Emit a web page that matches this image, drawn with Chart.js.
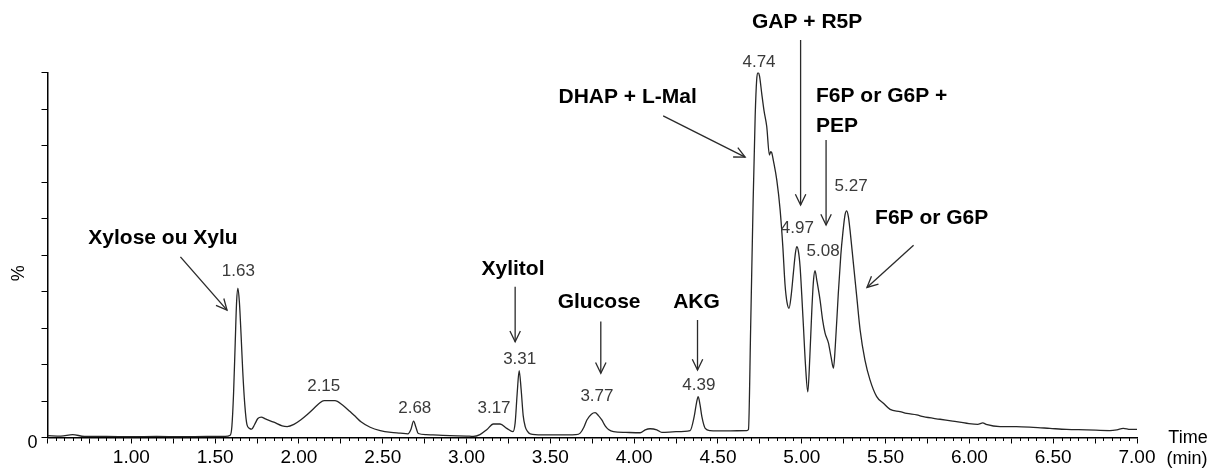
<!DOCTYPE html>
<html><head><meta charset="utf-8">
<script src="https://cdn.jsdelivr.net/npm/chart.js@4.4.1/dist/chart.umd.min.js"></script>
<style>html,body{margin:0;padding:0;background:#fff;}canvas{display:block;}</style>
</head><body>
<canvas id="c" width="1211" height="472"></canvas>
<script>
// ---- data (retention time in min, relative intensity in %) ----
const timeMin = [
0.50,0.58,0.65,0.72,0.85,1.00,1.15,1.30,1.45,1.56,1.59,1.600,1.610,1.620,1.628,1.636,1.645,1.655,1.665,1.677,1.690,1.705,1.718,1.735,1.755,1.775,1.800,1.850,1.900,1.930,1.970,2.010,2.050,2.090,2.120,2.150,2.215,2.260,2.305,2.340,2.370,2.425,2.485,2.550,2.605,2.650,2.668,2.684,2.698,2.712,2.760,2.800,2.900,3.000,3.040,3.080,3.122,3.160,3.200,3.240,3.277,3.290,3.302,3.314,3.326,3.338,3.350,3.365,3.380,3.450,3.550,3.650,3.678,3.700,3.718,3.745,3.767,3.787,3.807,3.827,3.847,3.877,3.950,4.036,4.066,4.095,4.135,4.165,4.250,4.334,4.358,4.372,4.382,4.393,4.404,4.424,4.453,4.550,4.672,4.682,4.695,4.710,4.722,4.731,4.739,4.748,4.761,4.775,4.791,4.807,4.815,4.821,4.830,4.851,4.871,4.887,4.900,4.912,4.924,4.937,4.950,4.962,4.970,4.980,4.990,5.000,5.010,5.022,5.036,5.048,5.060,5.070,5.079,5.090,5.109,5.125,5.139,5.159,5.175,5.189,5.200,5.218,5.233,5.245,5.258,5.268,5.278,5.288,5.308,5.328,5.348,5.377,5.407,5.447,5.487,5.527,5.586,5.626,5.686,5.725,5.825,5.900,5.984,6.050,6.080,6.100,6.183,6.280,6.381,6.480,6.580,6.700,6.838,6.880,6.918,6.960,7.000];
const intensityPct = [
0.5,0.4,0.8,0.3,0.3,0.2,0.3,0.2,0.3,0.3,0.6,3,12,26,37,40.9,37,28,18,9,3.5,2.5,2.3,3.5,5.2,5.6,5.1,4.2,3.2,3.0,3.6,4.8,6.3,8.0,9.3,10.1,10.1,8.9,7.1,5.6,4.3,2.8,1.9,1.4,1.2,1.0,2.2,4.5,2.8,1.1,0.8,0.7,0.5,0.4,0.3,0.8,2.2,3.7,3.7,2.5,1.6,4,12,18.3,13,6,3.0,1.6,1.0,0.7,0.7,0.8,1.2,2.8,4.8,6.4,6.8,6.0,4.8,3.2,2.2,1.6,1.4,1.3,2.1,2.4,2.1,1.4,1.6,1.9,5.7,9.5,11.2,9,5.7,2.5,1.9,1.8,1.9,2.2,30,65,88,98,100,99,94.3,89.5,85.2,77.4,78.3,78.0,76.0,70.5,62.3,52.3,42,37,35.4,39,45.1,50.5,52.3,51,46.8,39,30.4,20,12.5,22,34.9,43,45.7,43,37.7,32,28.6,25.9,22,19.0,25,39.5,50,56.0,61,62.1,60.5,56.8,47.7,38.6,29.5,21.2,15.8,11.2,9.4,7.7,7.1,6.6,6.2,5.7,5.0,4.5,3.9,3.6,4.0,3.6,3.0,3.0,2.8,2.5,2.2,2.1,1.9,2.1,2.5,2.2,2.2];

const xTickLabels = ['1.00','1.50','2.00','2.50','3.00','3.50','4.00','4.50','5.00','5.50','6.00','6.50','7.00'];
const yTickLabels = ['0'];

const peakLabels = ['1.63','2.15','2.68','3.17','3.31','3.77','4.39','4.74','4.97','5.08','5.27'];
const compoundNames = [['Xylose ou Xylu'],['Xylitol'],['Glucose'],['AKG'],['DHAP + L-Mal'],['GAP + R5P'],['F6P or G6P +','PEP'],['F6P or G6P']];

// ---- annotation placement (in data units: min, %) ----
const peakLabelPos = [[1.639,45.6],[2.148,13.9],[2.691,8.0],[3.164,8.1],[3.317,21.5],[3.778,11.2],[4.386,14.4],[4.745,102.9],[4.974,57.3],[5.127,50.9],[5.294,68.7]];
const compoundPos = [
  {at:[1.189,54.7], align:'center', from:[1.293,49.5], to:[1.571,34.9]},
  {at:[3.277,46.0], align:'center', from:[3.290,41.3], to:[3.290,26.2]},
  {at:[3.791,37.1], align:'center', from:[3.801,31.8], to:[3.801,17.6]},
  {at:[4.372,37.1], align:'center', from:[4.378,32.2], to:[4.378,18.5]},
  {at:[3.961,93.3], align:'center', from:[4.173,88.1], to:[4.662,76.8]},
  {at:[5.032,113.8], align:'center', from:[4.993,108.9], to:[4.993,63.7]},
  {at:[5.085,93.6], align:'left', from:[5.145,81.5], to:[5.145,58.2]},
  {at:[5.775,60.2], align:'center', from:[5.667,52.7], to:[5.389,41.1]}
];

const FONT = '"Liberation Sans", Arial, Helvetica, sans-serif';

function drawArrow(ctx, x0, y0, x1, y1) {
  ctx.beginPath(); ctx.moveTo(x0, y0); ctx.lineTo(x1, y1); ctx.stroke();
  const a = Math.atan2(y1 - y0, x1 - x0), L = 12, w = 0.45;
  ctx.beginPath();
  ctx.moveTo(x1 - L * Math.cos(a - w), y1 - L * Math.sin(a - w));
  ctx.lineTo(x1, y1);
  ctx.lineTo(x1 - L * Math.cos(a + w), y1 - L * Math.sin(a + w));
  ctx.stroke();
}

const annotPlugin = {
  id: 'annot',
  afterDraw(chart) {
    const {ctx, chartArea} = chart;
    const xs = chart.scales.x, ys = chart.scales.y;
    ctx.save();
    // minor ticks on the time axis every 0.05 min
    ctx.strokeStyle = '#000'; ctx.lineWidth = 1;
    for (let k = 10; k <= 140; k++) {
      if (k % 5 === 0) continue;
      const px = Math.round(xs.getPixelForValue(k / 20)) + 0.5;
      ctx.beginPath(); ctx.moveTo(px, chartArea.bottom); ctx.lineTo(px, chartArea.bottom + 3.5); ctx.stroke();
    }
    // peak retention time labels
    ctx.fillStyle = '#3a3a3a';
    ctx.font = '17px ' + FONT;
    ctx.textAlign = 'center'; ctx.textBaseline = 'middle';
    peakLabels.forEach((t, i) => {
      ctx.fillText(t, xs.getPixelForValue(peakLabelPos[i][0]), ys.getPixelForValue(peakLabelPos[i][1]));
    });
    // compound names + arrows
    ctx.font = 'bold 21px ' + FONT;
    ctx.fillStyle = '#000';
    ctx.strokeStyle = '#2a2a2a'; ctx.lineWidth = 1.3;
    compoundNames.forEach((lines, i) => {
      const p = compoundPos[i];
      ctx.textAlign = p.align;
      const x = xs.getPixelForValue(p.at[0]), y = ys.getPixelForValue(p.at[1]);
      lines.forEach((ln, j) => ctx.fillText(ln, x, y + j * 30.5));
      drawArrow(ctx, xs.getPixelForValue(p.from[0]), ys.getPixelForValue(p.from[1]),
                     xs.getPixelForValue(p.to[0]), ys.getPixelForValue(p.to[1]));
    });
    // axis titles
    ctx.font = '18px ' + FONT;
    ctx.textAlign = 'center';
    ctx.fillText('Time', chartArea.right + 51, chartArea.bottom + 0.5);
    ctx.fillText('(min)', chartArea.right + 50, chartArea.bottom + 22);
    ctx.save();
    ctx.translate(chartArea.left - 28, ys.getPixelForValue(45));
    ctx.rotate(-Math.PI / 2);
    ctx.fillText('%', 0, 0);
    ctx.restore();
    ctx.restore();
  }
};

const points = timeMin.map((t, i) => ({x: t, y: intensityPct[i]}));

new Chart(document.getElementById('c'), {
  type: 'line',
  data: { datasets: [{
    data: points, borderColor: '#262626', borderWidth: 1.3, pointRadius: 0,
    cubicInterpolationMode: 'monotone', fill: false
  }]},
  options: {
    responsive: false, animation: false, events: [],
    layout: { padding: { left: 0, top: 72.5, right: 74, bottom: 0 } },
    plugins: { legend: { display: false }, tooltip: { enabled: false } },
    scales: {
      x: {
        type: 'linear', min: 0.5, max: 7.0, position: 'bottom',
        afterFit(s) { s.height = 34.5; },
        border: { display: true, color: '#000', width: 1.5 },
        grid: { display: true, drawOnChartArea: false, drawTicks: true, tickLength: 6, color: '#000', lineWidth: 1 },
        ticks: {
          stepSize: 0.25, autoSkip: false, maxRotation: 0, padding: 3, color: '#000',
          font: { family: FONT, size: 19 },
          callback(v) { const s = Number(v).toFixed(2); return xTickLabels.includes(s) ? s : ''; }
        }
      },
      y: {
        min: 0, max: 100,
        afterFit(s) { s.width = 47.5; },
        border: { display: true, color: '#000', width: 1.5 },
        grid: { display: true, drawOnChartArea: false, drawTicks: true, tickLength: 6, color: '#000', lineWidth: 1 },
        ticks: {
          stepSize: 10, padding: 4, color: '#000', labelOffset: 6,
          font: { family: FONT, size: 18 },
          callback(v) { const s = String(v); return yTickLabels.includes(s) ? s : ''; }
        }
      }
    }
  },
  plugins: [annotPlugin]
});
</script>
</body></html>
